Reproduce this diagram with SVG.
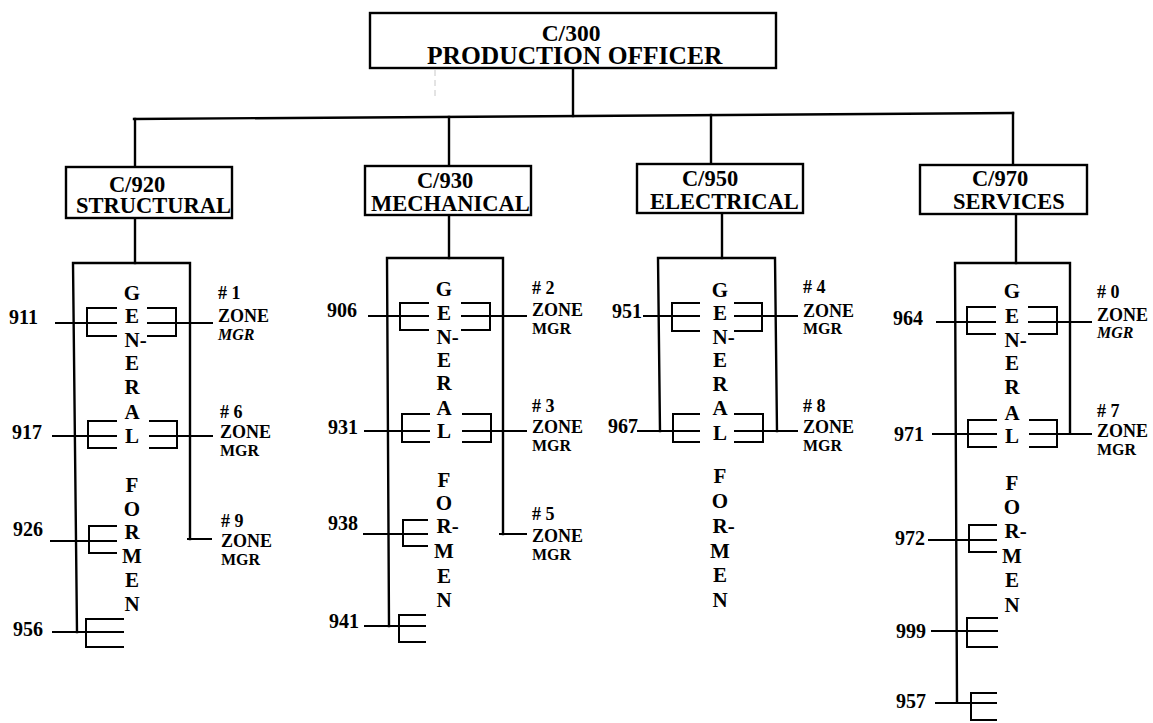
<svg xmlns="http://www.w3.org/2000/svg" width="1153" height="723" viewBox="0 0 1153 723">
<style>
.ln{stroke:#000;stroke-width:2.4;fill:none;stroke-linecap:square}
.th{stroke:#000;stroke-width:2;fill:none}
.bx{stroke:#000;stroke-width:2.4;fill:#fff}
.tt{font-family:"Liberation Serif","Times New Roman",serif;fill:#000;font-weight:bold}
.t0{font-size:23.5px}
.t1{font-size:25.5px}
.t2{font-size:22.5px}
.num{font-family:"Liberation Serif","Times New Roman",serif;font-size:20px;font-weight:bold;fill:#000}
.gf{font-family:"Liberation Serif","Times New Roman",serif;font-size:21px;font-weight:bold;fill:#000;text-anchor:middle}
.gfs{font-family:"Liberation Serif","Times New Roman",serif;font-size:21px;font-weight:bold;fill:#000}
.zn{font-family:"Liberation Serif","Times New Roman",serif;font-size:18px;font-weight:bold;fill:#000}
.mg{font-family:"Liberation Serif","Times New Roman",serif;font-size:16px;font-weight:bold;fill:#000}
.it{font-style:italic}
</style>
<rect width="1153" height="723" fill="#fff"/>

<g id="connectors">
  <line x1="435" y1="70" x2="435" y2="100" stroke="#c8c8c8" stroke-width="1" stroke-dasharray="6,4"/>
  <line class="ln" x1="573" y1="68" x2="573" y2="116"/>
  <line class="ln" x1="134" y1="119" x2="1013" y2="113"/>
  <line class="ln" x1="135" y1="119" x2="135" y2="167"/>
  <line class="ln" x1="449" y1="117" x2="449" y2="166"/>
  <line class="ln" x1="711" y1="115" x2="711" y2="164"/>
  <line class="ln" x1="1013" y1="113" x2="1013" y2="165"/>
  <!-- structural -->
  <line class="ln" x1="135" y1="218" x2="135" y2="263"/>
  <path class="ln" d="M77 632 L73 263 H190 V539"/>
  <line class="th" x1="187" y1="539" x2="212" y2="539"/>
  <!-- mechanical -->
  <line class="ln" x1="449" y1="215" x2="449" y2="258"/>
  <path class="ln" d="M389 626 L387 258 H503 V534"/>
  <line class="th" x1="499" y1="534" x2="527" y2="534"/>
  <!-- electrical -->
  <line class="ln" x1="722" y1="213" x2="722" y2="258"/>
  <path class="ln" d="M660 431 L658 258 H775 L777 431"/>
  <!-- services -->
  <line class="ln" x1="1016" y1="214" x2="1016" y2="263"/>
  <path class="ln" d="M957 702 L955 263 H1070 V433"/>
</g>

<g id="links">
  <!-- structural rows -->
  <line class="th" x1="55" y1="323" x2="117" y2="323"/>
  <path class="th" d="M117 308 H87 V336 H117"/>
  <path class="th" d="M147 308 H176 V336 H147 M147 323 H213"/>
  <line class="th" x1="52" y1="436" x2="117" y2="436"/>
  <path class="th" d="M117 421 H88 V448 H117"/>
  <path class="th" d="M149 421 H177 V448 H149 M149 436 H213"/>
  <line class="th" x1="50" y1="541" x2="117" y2="541"/>
  <path class="th" d="M117 526 H89 V553 H117"/>
  <line class="th" x1="52" y1="632" x2="124" y2="632"/>
  <path class="th" d="M124 619 H86 V647 H124"/>
  <!-- mechanical rows -->
  <line class="th" x1="368" y1="316" x2="429" y2="316"/>
  <path class="th" d="M429 303 H400 V330 H429"/>
  <path class="th" d="M461 303 H490 V330 H461 M461 316 H527"/>
  <line class="th" x1="364" y1="431" x2="430" y2="431"/>
  <path class="th" d="M430 414 H402 V442 H430"/>
  <path class="th" d="M462 414 H491 V442 H462 M462 431 H527"/>
  <line class="th" x1="363" y1="534" x2="428" y2="534"/>
  <path class="th" d="M428 520 H403 V546 H428"/>
  <line class="th" x1="364" y1="626" x2="426" y2="626"/>
  <path class="th" d="M426 615 H399 V642 H426"/>
  <!-- electrical rows -->
  <line class="th" x1="643" y1="316" x2="700" y2="316"/>
  <path class="th" d="M700 303 H672 V331 H700"/>
  <path class="th" d="M734 303 H762 V331 H734 M734 316 H798"/>
  <line class="th" x1="637" y1="431" x2="700" y2="431"/>
  <path class="th" d="M700 414 H673 V442 H700"/>
  <path class="th" d="M734 414 H763 V442 H734 M734 431 H798"/>
  <!-- services rows -->
  <line class="th" x1="936" y1="322" x2="996" y2="322"/>
  <path class="th" d="M996 307 H967 V334 H996"/>
  <path class="th" d="M1028 307 H1057 V334 H1028 M1028 322 H1092"/>
  <line class="th" x1="932" y1="434" x2="997" y2="434"/>
  <path class="th" d="M997 420 H968 V447 H997"/>
  <path class="th" d="M1029 420 H1057 V447 H1029 M1029 434 H1092"/>
  <line class="th" x1="928" y1="540" x2="997" y2="540"/>
  <path class="th" d="M997 525 H969 V552 H997"/>
  <line class="th" x1="931" y1="631" x2="998" y2="631"/>
  <path class="th" d="M998 618 H967 V647 H998"/>
  <line class="th" x1="935" y1="703" x2="997" y2="703"/>
  <path class="th" d="M997 693 H971 V720 H997"/>
</g>

<g id="n-c300">
  <rect class="bx" x="370" y="13" width="406" height="55"/>
  <text class="tt t0" x="571" y="41" text-anchor="middle">C/300</text>
  <text class="tt t1" x="427" y="64">PRODUCTION OFFICER</text>
</g>
<g id="n-c920">
  <rect class="bx" x="66" y="167" width="166" height="51"/>
  <text class="tt t2" x="137" y="192" text-anchor="middle">C/920</text>
  <text class="tt t2" x="76" y="213">STRUCTURAL</text>
</g>
<g id="n-c930">
  <rect class="bx" x="365" y="166" width="166" height="49"/>
  <text class="tt t2" x="445" y="188" text-anchor="middle">C/930</text>
  <text class="tt t2" x="371" y="211">MECHANICAL</text>
</g>
<g id="n-c950">
  <rect class="bx" x="637" y="164" width="166" height="49"/>
  <text class="tt t2" x="710" y="186" text-anchor="middle">C/950</text>
  <text class="tt t2" x="650" y="209">ELECTRICAL</text>
</g>
<g id="n-c970">
  <rect class="bx" x="920" y="165" width="167" height="49"/>
  <text class="tt t2" x="1000" y="186" text-anchor="middle">C/970</text>
  <text class="tt t2" x="953" y="209">SERVICES</text>
</g>

<g id="n-gf-structural">
  <text class="gf" x="132" y="300">G</text>
  <text class="gf" x="132" y="323">E</text>
  <text class="gfs" x="124.5" y="347">N-</text>
  <text class="gf" x="132" y="370">E</text>
  <text class="gf" x="132" y="394">R</text>
  <text class="gf" x="132" y="419">A</text>
  <text class="gf" x="132" y="443">L</text>
  <text class="gf" x="132" y="492">F</text>
  <text class="gf" x="132" y="516">O</text>
  <text class="gf" x="132" y="539">R</text>
  <text class="gf" x="132" y="563">M</text>
  <text class="gf" x="132" y="587">E</text>
  <text class="gf" x="132" y="611">N</text>
</g>
<g id="n-gf-mechanical">
  <text class="gf" x="444" y="296">G</text>
  <text class="gf" x="444" y="320">E</text>
  <text class="gfs" x="436.5" y="344">N-</text>
  <text class="gf" x="444" y="367">E</text>
  <text class="gf" x="444" y="390">R</text>
  <text class="gf" x="444" y="415">A</text>
  <text class="gf" x="444" y="438">L</text>
  <text class="gf" x="444" y="487">F</text>
  <text class="gf" x="444" y="510">O</text>
  <text class="gfs" x="436.5" y="533">R-</text>
  <text class="gf" x="444" y="558">M</text>
  <text class="gf" x="444" y="583">E</text>
  <text class="gf" x="444" y="607">N</text>
</g>
<g id="n-gf-electrical">
  <text class="gf" x="720" y="297">G</text>
  <text class="gf" x="720" y="320">E</text>
  <text class="gfs" x="712.5" y="344">N-</text>
  <text class="gf" x="720" y="367">E</text>
  <text class="gf" x="720" y="391">R</text>
  <text class="gf" x="720" y="415">A</text>
  <text class="gf" x="720" y="440">L</text>
  <text class="gf" x="720" y="483">F</text>
  <text class="gf" x="720" y="508">O</text>
  <text class="gfs" x="712.5" y="533">R-</text>
  <text class="gf" x="720" y="558">M</text>
  <text class="gf" x="720" y="582">E</text>
  <text class="gf" x="720" y="607">N</text>
</g>
<g id="n-gf-services">
  <text class="gf" x="1012" y="298">G</text>
  <text class="gf" x="1012" y="323">E</text>
  <text class="gfs" x="1004.5" y="347">N-</text>
  <text class="gf" x="1012" y="370">E</text>
  <text class="gf" x="1012" y="394">R</text>
  <text class="gf" x="1012" y="420">A</text>
  <text class="gf" x="1012" y="443">L</text>
  <text class="gf" x="1012" y="490">F</text>
  <text class="gf" x="1012" y="514">O</text>
  <text class="gfs" x="1004.5" y="538">R-</text>
  <text class="gf" x="1012" y="563">M</text>
  <text class="gf" x="1012" y="587">E</text>
  <text class="gf" x="1012" y="612">N</text>
</g>

<g id="n-numbers">
  <text class="num" x="9" y="324">911</text>
  <text class="num" x="12" y="439">917</text>
  <text class="num" x="13" y="536">926</text>
  <text class="num" x="13" y="636">956</text>
  <text class="num" x="327" y="317">906</text>
  <text class="num" x="328" y="434">931</text>
  <text class="num" x="328" y="530">938</text>
  <text class="num" x="329" y="628">941</text>
  <text class="num" x="612" y="318">951</text>
  <text class="num" x="608" y="433">967</text>
  <text class="num" x="893" y="325">964</text>
  <text class="num" x="894" y="441">971</text>
  <text class="num" x="895" y="545">972</text>
  <text class="num" x="896" y="638">999</text>
  <text class="num" x="896" y="708">957</text>
</g>

<g id="n-zones">
  <text class="zn" x="218" y="299"># 1</text><text class="zn" x="218" y="322">ZONE</text><text class="mg it" x="218" y="340">MGR</text>
  <text class="zn" x="220" y="418"># 6</text><text class="zn" x="220" y="438">ZONE</text><text class="mg" x="220" y="456">MGR</text>
  <text class="zn" x="221" y="527"># 9</text><text class="zn" x="221" y="547">ZONE</text><text class="mg" x="221" y="565">MGR</text>
  <text class="zn" x="532" y="294"># 2</text><text class="zn" x="532" y="316">ZONE</text><text class="mg" x="532" y="334">MGR</text>
  <text class="zn" x="532" y="412"># 3</text><text class="zn" x="532" y="433">ZONE</text><text class="mg" x="532" y="451">MGR</text>
  <text class="zn" x="532" y="520"># 5</text><text class="zn" x="532" y="542">ZONE</text><text class="mg" x="532" y="560">MGR</text>
  <text class="zn" x="803" y="293"># 4</text><text class="zn" x="803" y="317">ZONE</text><text class="mg" x="803" y="334">MGR</text>
  <text class="zn" x="803" y="412"># 8</text><text class="zn" x="803" y="433">ZONE</text><text class="mg" x="803" y="451">MGR</text>
  <text class="zn" x="1097" y="298"># 0</text><text class="zn" x="1097" y="321">ZONE</text><text class="mg it" x="1097" y="338">MGR</text>
  <text class="zn" x="1097" y="417"># 7</text><text class="zn" x="1097" y="437">ZONE</text><text class="mg" x="1097" y="455">MGR</text>
</g>
</svg>
